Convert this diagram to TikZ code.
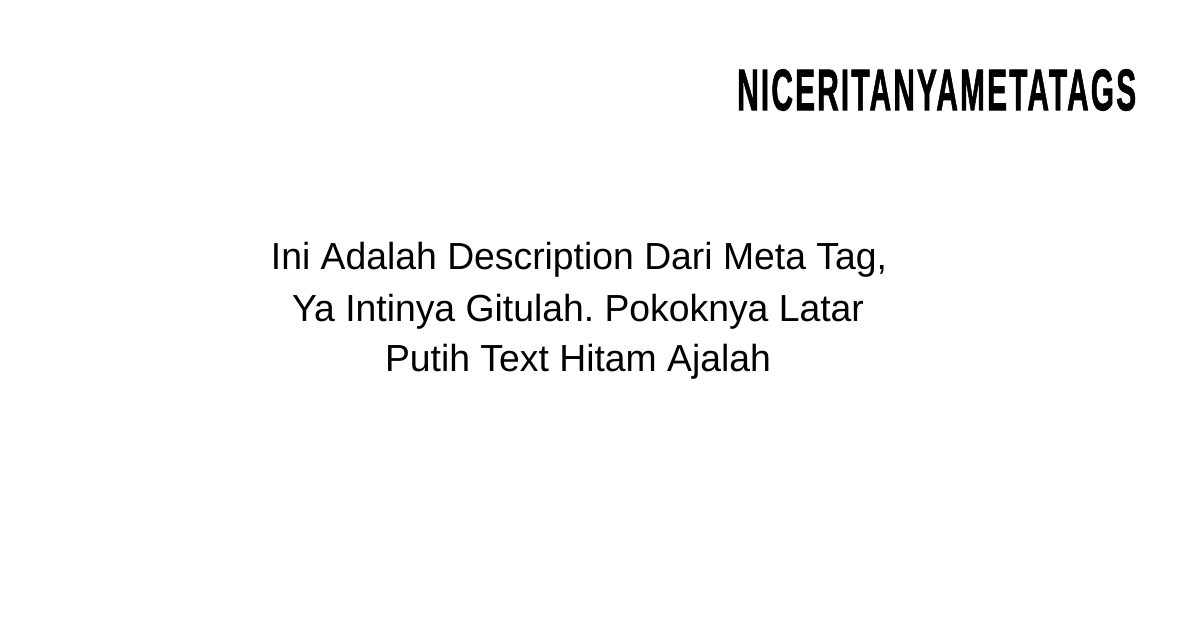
\documentclass[tikz,border=0pt]{standalone}
\usepackage{fontspec}
\setmainfont{Liberation Sans}
\newfontfamily\titlefont[LetterSpace=7,FakeBold=1.5]{Liberation Sans Bold}
\frenchspacing
\begin{document}
\begin{tikzpicture}[x=1pt,y=1pt,
  bodytext/.style={inner sep=0pt,anchor=base,font=\fontsize{37.7}{45}\selectfont,text=black},
  titletext/.style={inner sep=0pt,anchor=south west,text=black}]
\useasboundingbox (0,0) rectangle (1200,630);
\fill[white] (0,0) rectangle (1200,630);
\node[titletext] (title) at (737,519) {\resizebox{399pt}{41pt}{\titlefont NICERITANYAMETATAGS}};
\node[bodytext] (l1) at (579,360) {\scalebox{0.99}[1]{Ini Adalah Description Dari Meta Tag,}};
\node[bodytext] (l2) at (578,308) {\scalebox{0.99}[1]{Ya Intinya Gitulah. Pokoknya Latar}};
\node[bodytext] (l3) at (578,258) {\scalebox{0.99}[1]{Putih Text Hitam Ajalah}};
\end{tikzpicture}
\end{document}
